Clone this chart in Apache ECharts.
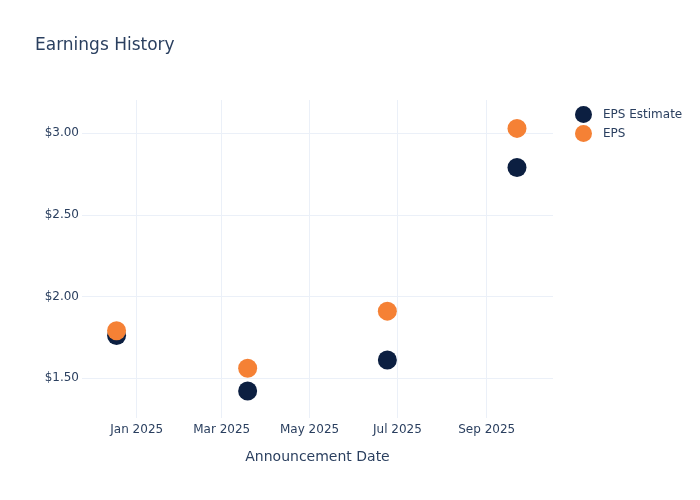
<!DOCTYPE html>
<html>
<head>
<meta charset="utf-8">
<script src="https://cdn.jsdelivr.net/npm/echarts@6/dist/echarts.min.js"></script>
<style>html,body{margin:0;padding:0;background:#fff}#c{width:700px;height:500px}</style>
</head>
<body>
<div id="c"></div>
<script>
const dates = ['2024-12-18', '2025-03-19', '2025-06-24', '2025-09-22'];
const epsEstimate = [1.76, 1.42, 1.61, 2.79];
const eps = [1.79, 1.56, 1.91, 3.03];
const xTicks = ['2025-01-01', '2025-03-01', '2025-05-01', '2025-07-01', '2025-09-01'];
const yTicks = [1.5, 2.0, 2.5, 3.0];
const xRange = ['2024-11-24', '2025-10-17'];
const yRange = [1.255, 3.204];

function ts(s) { const p = s.split('-').map(Number); return new Date(p[0], p[1] - 1, p[2]).getTime(); }
const months = ['Jan','Feb','Mar','Apr','May','Jun','Jul','Aug','Sep','Oct','Nov','Dec'];
const font = 'DejaVu Sans, sans-serif';
const txt = '#2a3f5f';
const gridColor = '#ebf0f8';

const chart = echarts.init(document.getElementById('c'), null, {renderer: 'canvas'});
chart.setOption({
  backgroundColor: '#fff',
  animation: false,
  title: {
    text: 'Earnings History', left: 30, top: 32,
    textStyle: {fontFamily: font, fontSize: 17, fontWeight: 'normal', color: txt}
  },
  legend: {
    orient: 'vertical', left: 570, top: 101, itemGap: 2,
    itemWidth: 17, itemHeight: 17, icon: 'circle',
    textStyle: {fontFamily: font, fontSize: 12, color: txt, padding: [0, 0, 0, 6]},
    data: ['EPS Estimate', 'EPS']
  },
  grid: {left: 82, right: 147, top: 100, bottom: 82, containLabel: false},
  xAxis: {
    type: 'value', min: ts(xRange[0]), max: ts(xRange[1]),
    name: 'Announcement Date', nameLocation: 'middle', nameGap: 32,
    nameTextStyle: {fontFamily: font, fontSize: 14, color: txt},
    axisLine: {show: false},
    axisTick: {show: false, customValues: xTicks.map(ts)},
    axisLabel: {
      customValues: xTicks.map(ts), margin: 6,
      fontFamily: font, fontSize: 12, color: txt,
      formatter: function (v) { const d = new Date(v); return months[d.getMonth()] + ' ' + d.getFullYear(); }
    },
    splitLine: {show: true, lineStyle: {color: gridColor, width: 1}}
  },
  yAxis: {
    type: 'value', min: yRange[0], max: yRange[1],
    axisLine: {show: false},
    axisTick: {show: false, customValues: yTicks},
    axisLabel: {
      customValues: yTicks, margin: 3,
      fontFamily: font, fontSize: 12, color: txt,
      formatter: function (v) { return '$' + v.toFixed(2); }
    },
    splitLine: {show: true, lineStyle: {color: gridColor, width: 1}}
  },
  series: [
    {
      name: 'EPS Estimate', type: 'scatter', symbolSize: 19,
      itemStyle: {color: '#0c1f41', opacity: 1},
      data: dates.map((d, i) => [ts(d), epsEstimate[i]])
    },
    {
      name: 'EPS', type: 'scatter', symbolSize: 19,
      itemStyle: {color: '#f58135', opacity: 1},
      data: dates.map((d, i) => [ts(d), eps[i]])
    }
  ]
});
</script>
</body>
</html>
